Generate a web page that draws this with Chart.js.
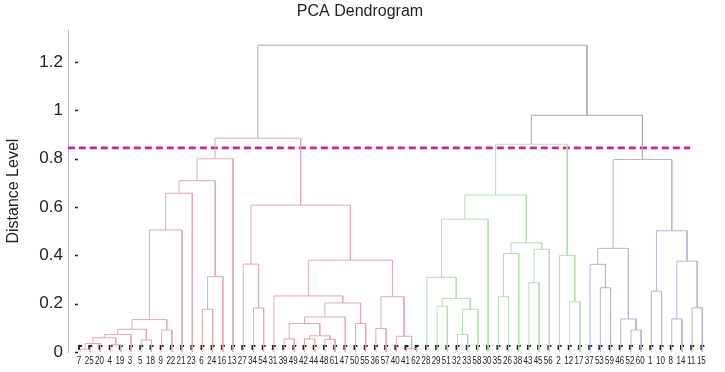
<!DOCTYPE html>
<html><head><meta charset="utf-8">
<script src="https://cdn.jsdelivr.net/npm/chart.js@4.4.0/dist/chart.umd.min.js"></script>
<style>html,body{margin:0;padding:0;background:#fff}#wrap{width:725px;height:372px;position:relative}</style>
</head><body><div id="wrap"><canvas id="c"></canvas></div>
<script>
// ---- DATA ----
const leafOrder = [7,25,20,4,19,3,5,18,9,22,21,23,6,24,16,13,27,34,54,31,39,49,42,44,48,61,47,50,55,36,57,40,41,62,28,29,51,32,33,58,30,35,26,38,43,45,56,2,12,17,37,53,59,46,52,60,1,10,8,14,11,15];
// links: [name, left, right, height]  (numbers = leaf ids, strings = earlier links)
const redLinks = [
  ['r1',7,25,0.012],['r2','r1',20,0.035],['r3',4,19,0.03],['r4','r2','r3',0.059],
  ['r5','r4',3,0.072],['r6',5,18,0.05],['r7','r5','r6',0.094],['r8',9,22,0.091],
  ['r9','r7','r8',0.134],['r10','r9',21,0.505],['r11','r10',23,0.657],['r12',6,24,0.177],
  ['r13','r12',16,0.312],['r14','r11','r13',0.709],['r15','r14',13,0.80],
  ['r16',34,54,0.182],['r17',27,'r16',0.364],['r18',39,49,0.054],['r19',42,44,0.054],
  ['r20',48,61,0.052],['r21','r19','r20',0.067],['r22','r18','r21',0.118],['r23','r22',47,0.145],
  ['r24',50,55,0.118],['r25','r23','r24',0.203],['r26',31,'r25',0.232],['r27',36,57,0.097],
  ['r28',41,62,0.015],['r29',40,'r28',0.065],['r30','r27','r29',0.229],['r31','r26','r30',0.38],
  ['r32','r17','r31',0.608],['r33','r15','r32',0.885]
];
const greenLinks = [
  ['g1',29,51,0.19],['g2',32,33,0.073],['g3','g2',58,0.177],['g4','g1','g3',0.222],
  ['g5',28,'g4',0.309],['g6','g5',30,0.55],['g7',35,26,0.229],['g8','g7',38,0.408],
  ['g9',43,45,0.287],['g10','g9',56,0.425],['g11','g8','g10',0.452],['g12','g6','g11',0.65],
  ['g13',12,17,0.208],['g14',2,'g13',0.40],['g15','g12','g14',0.86]
];
const blueLinks = [
  ['b1',53,59,0.266],['b2',37,'b1',0.363],['b3',52,60,0.091],['b4',46,'b3',0.137],
  ['b5','b2','b4',0.429],['b6',1,10,0.252],['b7',8,14,0.137],['b8',11,15,0.183],
  ['b9','b7','b8',0.376],['b10','b6','b9',0.502],['b11','b5','b10',0.797]
];
const topLinks = [['t1','g15','b11',0.98],['t2','r33','t1',1.27]];
const cutLevel = 0.845;
const cutExtent = [-0.2, 60.8];
const yTicks = [0,0.2,0.4,0.6,0.8,1,1.2];

// ---- STYLE ----
const colors = {red:'#e5a9b2', green:'#b2dfb2', blue:'#b3b3e3', top:'#ababab'};
const FONT = '"Liberation Sans",Arial,Helvetica,sans-serif';

// ---- BUILD ----
const pos = {}, hgt = {};
leafOrder.forEach((l,i)=>{pos[l]=i+1; hgt[l]=0;});
const datasets = [];
function addLinks(list, color){
  list.forEach(([n,a,b,h])=>{
    pos[n]=(pos[a]+pos[b])/2; hgt[n]=h;
    datasets.push({
      data:[{x:pos[a],y:hgt[a]},{x:pos[a],y:h},{x:pos[b],y:h},{x:pos[b],y:hgt[b]}],
      showLine:true, borderColor:color, borderWidth:1, pointRadius:0, tension:0, fill:false
    });
  });
}
addLinks(redLinks, colors.red);
addLinks(greenLinks, colors.green);
addLinks(blueLinks, colors.blue);
addLinks(topLinks, colors.top);
// cut line
datasets.push({data:[{x:cutExtent[0],y:cutLevel},{x:cutExtent[1],y:cutLevel}],
  showLine:true, borderColor:'#c9229b', borderWidth:2.6, borderDash:[7,4], pointRadius:0});
// leaf tick marks (small "r" shaped ticks)
const tickImg = document.createElement('canvas');
tickImg.width=6; tickImg.height=8;
(function(){const g=tickImg.getContext('2d'); g.fillStyle='#222';
  g.fillRect(1,1,2,5); g.fillRect(1,1,4,2);})();
datasets.push({data:leafOrder.map((l,i)=>({x:i+1,y:0.017})), showLine:false,
  pointStyle:tickImg, pointRadius:3});

const extras = {
  id:'extras',
  afterDatasetsDraw(chart){
    const ctx=chart.ctx, y=chart.scales.y, x=chart.scales.x, L=chart.chartArea.left, B=chart.chartArea.bottom;
    ctx.save(); ctx.strokeStyle='#222'; ctx.lineWidth=1.5;
    yTicks.forEach(v=>{const py=Math.round(y.getPixelForValue(v))+0.5;
      ctx.beginPath(); ctx.moveTo(L+7,py); ctx.lineTo(L+10,py); ctx.stroke();});
    // leaf labels, condensed
    ctx.fillStyle='#222'; ctx.font='10px '+FONT; ctx.textAlign='center'; ctx.textBaseline='top';
    leafOrder.forEach((l,i)=>{
      const px=x.getPixelForValue(i+1)-1;
      ctx.save(); ctx.translate(px,B+4); ctx.scale(0.8,1); ctx.fillText(String(l),0,0); ctx.restore();
    });
    ctx.restore();
  }
};

new Chart(document.getElementById('c'),{
  type:'scatter',
  data:{datasets},
  plugins:[extras],
  options:{
    responsive:true, maintainAspectRatio:false, animation:false,
    layout:{padding:{left:0,right:5,top:0,bottom:0}},
    plugins:{
      legend:{display:false}, tooltip:{enabled:false},
      title:{display:true,text:'PCA Dendrogram',color:'#222',
        font:{size:16,weight:'normal',family:FONT},padding:{top:2,bottom:9}}
    },
    scales:{
      x:{type:'linear',min:-0.18,max:63.73,
        afterFit:s=>{s.height=20;},
        border:{display:false},grid:{display:false,drawTicks:false},
        ticks:{display:false}},
      y:{type:'linear',min:0,max:1.332,
        afterFit:s=>{s.width=68;},
        afterBuildTicks:s=>{s.ticks=yTicks.map(v=>({value:v}));},
        border:{display:true,color:'#b8b8b8',width:1},
        grid:{display:false,drawTicks:false},
        ticks:{padding:5,color:'#222',font:{size:17,family:FONT},
          callback:v=>String(v)},
        title:{display:true,text:'Distance Level',color:'#222',
          font:{size:16,family:FONT},padding:{top:4,bottom:0}}}
    }
  }
});
</script></body></html>
